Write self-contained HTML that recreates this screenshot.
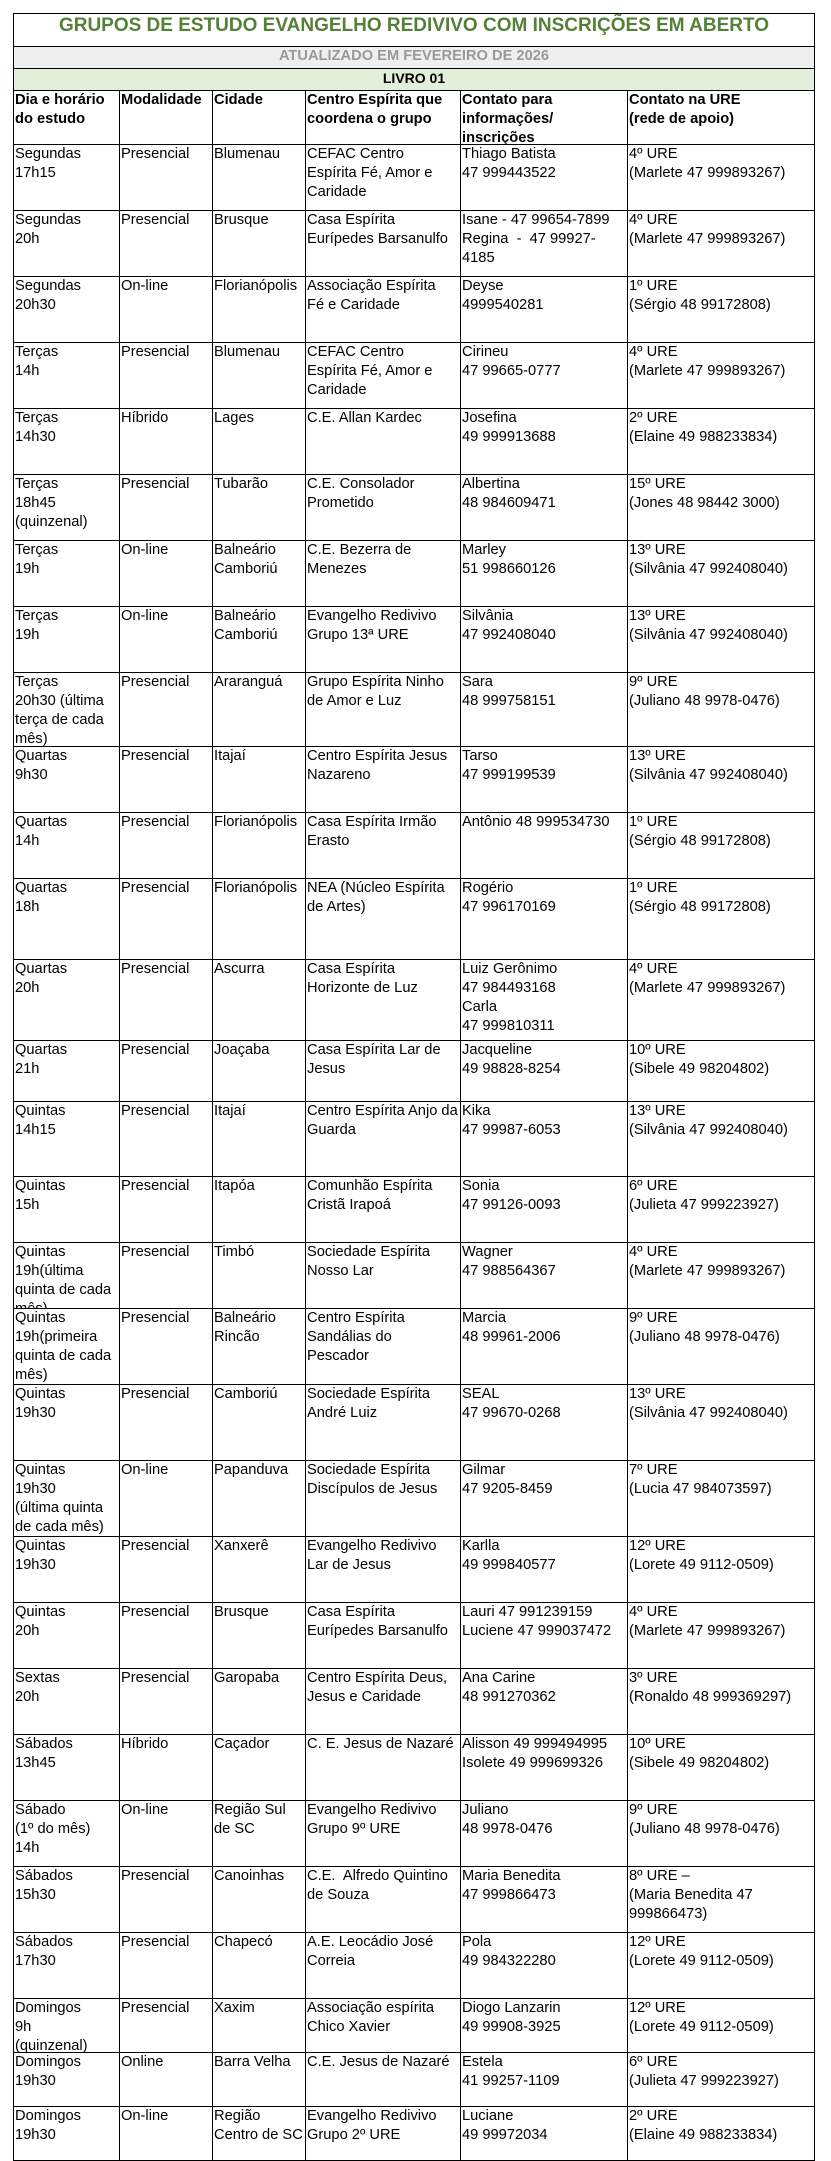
<!DOCTYPE html>
<html>
<head>
<meta charset="utf-8">
<style>
html,body{margin:0;padding:0;background:#fff;}
body{width:831px;height:2161px;position:relative;overflow:hidden;font-family:"Liberation Sans",Arial,sans-serif;color:#000;}
.h{position:absolute;left:13px;width:802px;height:1px;background:#000;}
.v{position:absolute;width:1px;background:#000;}
.r{position:absolute;left:0;width:831px;}
.r div{position:absolute;top:0;height:100%;white-space:nowrap;font-size:14.67px;line-height:19px;clip-path:inset(0 -40px 0 -2px);}
.c1{left:15px}.c2{left:121px}.c3{left:214px}.c4{left:307px}.c5{left:462px}.c6{left:629px}
.hd div{font-weight:bold;}
.band{position:absolute;left:14px;width:800px;}
</style>
</head>
<body>
<!-- band backgrounds -->
<div class="band" style="top:47px;height:21px;background:#efefef;"></div>
<div class="band" style="top:69px;height:21px;background:#e2efda;"></div>

<div style="position:absolute;left:14px;width:800px;top:15px;line-height:22px;font-size:19px;font-weight:bold;color:#538135;text-align:center;white-space:nowrap;">GRUPOS DE ESTUDO EVANGELHO REDIVIVO COM INSCRIÇÕES EM ABERTO</div>
<div style="position:absolute;left:14px;width:800px;top:47px;line-height:19px;font-size:14.67px;font-weight:bold;color:#999;text-align:center;white-space:nowrap;">ATUALIZADO EM FEVEREIRO DE 2026</div>
<div style="position:absolute;left:14px;width:800px;top:69px;line-height:19px;font-size:14px;font-weight:bold;color:#000;text-align:center;white-space:nowrap;">LIVRO 01</div>

<!-- horizontal lines -->
<div class="h" style="top:13px"></div>
<div class="h" style="top:46px"></div>
<div class="h" style="top:68px"></div>
<div class="h" style="top:90px"></div>
<div class="h" style="top:144px"></div>
<div class="h" style="top:210px"></div>
<div class="h" style="top:276px"></div>
<div class="h" style="top:342px"></div>
<div class="h" style="top:408px"></div>
<div class="h" style="top:474px"></div>
<div class="h" style="top:540px"></div>
<div class="h" style="top:606px"></div>
<div class="h" style="top:672px"></div>
<div class="h" style="top:746px"></div>
<div class="h" style="top:812px"></div>
<div class="h" style="top:878px"></div>
<div class="h" style="top:959px"></div>
<div class="h" style="top:1040px"></div>
<div class="h" style="top:1101px"></div>
<div class="h" style="top:1176px"></div>
<div class="h" style="top:1242px"></div>
<div class="h" style="top:1308px"></div>
<div class="h" style="top:1384px"></div>
<div class="h" style="top:1460px"></div>
<div class="h" style="top:1536px"></div>
<div class="h" style="top:1602px"></div>
<div class="h" style="top:1668px"></div>
<div class="h" style="top:1734px"></div>
<div class="h" style="top:1800px"></div>
<div class="h" style="top:1866px"></div>
<div class="h" style="top:1932px"></div>
<div class="h" style="top:1998px"></div>
<div class="h" style="top:2052px"></div>
<div class="h" style="top:2106px"></div>
<div class="h" style="top:2160px"></div>

<!-- header rows -->
<div class="r hd" style="top:91px;height:53px;">
<div class="c1">Dia e horário<br>do estudo</div>
<div class="c2">Modalidade</div>
<div class="c3">Cidade</div>
<div class="c4">Centro Espírita que<br>coordena o grupo</div>
<div class="c5">Contato para<br>informações/<br>inscrições</div>
<div class="c6">Contato na URE<br>(rede de apoio)</div>
</div>

<div class="r" style="top:145px;height:65px;"><div class="c1">Segundas<br>17h15</div><div class="c2">Presencial</div><div class="c3">Blumenau</div><div class="c4">CEFAC Centro<br>Espírita Fé, Amor e<br>Caridade</div><div class="c5">Thiago Batista<br>47 999443522</div><div class="c6">4º URE<br>(Marlete 47 999893267)</div></div>

<div class="r" style="top:211px;height:65px;"><div class="c1">Segundas<br>20h</div><div class="c2">Presencial</div><div class="c3">Brusque</div><div class="c4">Casa Espírita<br>Eurípedes Barsanulfo</div><div class="c5">Isane - 47 99654-7899<br>Regina&nbsp; -&nbsp; 47 99927-<br>4185</div><div class="c6">4º URE<br>(Marlete 47 999893267)</div></div>

<div class="r" style="top:277px;height:65px;"><div class="c1">Segundas<br>20h30</div><div class="c2">On-line</div><div class="c3">Florianópolis</div><div class="c4">Associação Espírita<br>Fé e Caridade</div><div class="c5">Deyse<br>4999540281</div><div class="c6">1º URE<br>(Sérgio 48 99172808)</div></div>

<div class="r" style="top:343px;height:65px;"><div class="c1">Terças<br>14h</div><div class="c2">Presencial</div><div class="c3">Blumenau</div><div class="c4">CEFAC Centro<br>Espírita Fé, Amor e<br>Caridade</div><div class="c5">Cirineu<br>47 99665-0777</div><div class="c6">4º URE<br>(Marlete 47 999893267)</div></div>

<div class="r" style="top:409px;height:65px;"><div class="c1">Terças<br>14h30</div><div class="c2">Híbrido</div><div class="c3">Lages</div><div class="c4">C.E. Allan Kardec</div><div class="c5">Josefina<br>49 999913688</div><div class="c6">2º URE<br>(Elaine 49 988233834)</div></div>

<div class="r" style="top:475px;height:65px;"><div class="c1">Terças<br>18h45<br>(quinzenal)</div><div class="c2">Presencial</div><div class="c3">Tubarão</div><div class="c4">C.E. Consolador<br>Prometido</div><div class="c5">Albertina<br>48 984609471</div><div class="c6">15º URE<br>(Jones 48 98442 3000)</div></div>

<div class="r" style="top:541px;height:65px;"><div class="c1">Terças<br>19h</div><div class="c2">On-line</div><div class="c3">Balneário<br>Camboriú</div><div class="c4">C.E. Bezerra de<br>Menezes</div><div class="c5">Marley<br>51 998660126</div><div class="c6">13º URE<br>(Silvânia 47 992408040)</div></div>

<div class="r" style="top:607px;height:65px;"><div class="c1">Terças<br>19h</div><div class="c2">On-line</div><div class="c3">Balneário<br>Camboriú</div><div class="c4">Evangelho Redivivo<br>Grupo 13ª URE</div><div class="c5">Silvânia<br>47 992408040</div><div class="c6">13º URE<br>(Silvânia 47 992408040)</div></div>

<div class="r" style="top:673px;height:73px;"><div class="c1">Terças<br>20h30 (última<br>terça de cada<br>mês)</div><div class="c2">Presencial</div><div class="c3">Araranguá</div><div class="c4">Grupo Espírita Ninho<br>de Amor e Luz</div><div class="c5">Sara<br>48 999758151</div><div class="c6">9º URE<br>(Juliano 48 9978-0476)</div></div>

<div class="r" style="top:747px;height:65px;"><div class="c1">Quartas<br>9h30</div><div class="c2">Presencial</div><div class="c3">Itajaí</div><div class="c4">Centro Espírita Jesus<br>Nazareno</div><div class="c5">Tarso<br>47 999199539</div><div class="c6">13º URE<br>(Silvânia 47 992408040)</div></div>

<div class="r" style="top:813px;height:65px;"><div class="c1">Quartas<br>14h</div><div class="c2">Presencial</div><div class="c3">Florianópolis</div><div class="c4">Casa Espírita Irmão<br>Erasto</div><div class="c5">Antônio 48 999534730</div><div class="c6">1º URE<br>(Sérgio 48 99172808)</div></div>

<div class="r" style="top:879px;height:80px;"><div class="c1">Quartas<br>18h</div><div class="c2">Presencial</div><div class="c3">Florianópolis</div><div class="c4">NEA (Núcleo Espírita<br>de Artes)</div><div class="c5">Rogério<br>47 996170169</div><div class="c6">1º URE<br>(Sérgio 48 99172808)</div></div>

<div class="r" style="top:960px;height:80px;"><div class="c1">Quartas<br>20h</div><div class="c2">Presencial</div><div class="c3">Ascurra</div><div class="c4">Casa Espírita<br>Horizonte de Luz</div><div class="c5">Luiz Gerônimo<br>47 984493168<br>Carla<br>47 999810311</div><div class="c6">4º URE<br>(Marlete 47 999893267)</div></div>

<div class="r" style="top:1041px;height:60px;"><div class="c1">Quartas<br>21h</div><div class="c2">Presencial</div><div class="c3">Joaçaba</div><div class="c4">Casa Espírita Lar de<br>Jesus</div><div class="c5">Jacqueline<br>49 98828-8254</div><div class="c6">10º URE<br>(Sibele 49 98204802)</div></div>

<div class="r" style="top:1102px;height:74px;"><div class="c1">Quintas<br>14h15</div><div class="c2">Presencial</div><div class="c3">Itajaí</div><div class="c4">Centro Espírita Anjo da<br>Guarda</div><div class="c5">Kika<br>47 99987-6053</div><div class="c6">13º URE<br>(Silvânia 47 992408040)</div></div>

<div class="r" style="top:1177px;height:65px;"><div class="c1">Quintas<br>15h</div><div class="c2">Presencial</div><div class="c3">Itapóa</div><div class="c4">Comunhão Espírita<br>Cristã Irapoá</div><div class="c5">Sonia<br>47 99126-0093</div><div class="c6">6º URE<br>(Julieta 47 999223927)</div></div>

<div class="r" style="top:1243px;height:65px;"><div class="c1">Quintas<br>19h(última<br>quinta de cada<br>mês)</div><div class="c2">Presencial</div><div class="c3">Timbó</div><div class="c4">Sociedade Espírita<br>Nosso Lar</div><div class="c5">Wagner<br>47 988564367</div><div class="c6">4º URE<br>(Marlete 47 999893267)</div></div>

<div class="r" style="top:1309px;height:75px;"><div class="c1">Quintas<br>19h(primeira<br>quinta de cada<br>mês)</div><div class="c2">Presencial</div><div class="c3">Balneário<br>Rincão</div><div class="c4">Centro Espírita<br>Sandálias do<br>Pescador</div><div class="c5">Marcia<br>48 99961-2006</div><div class="c6">9º URE<br>(Juliano 48 9978-0476)</div></div>

<div class="r" style="top:1385px;height:75px;"><div class="c1">Quintas<br>19h30</div><div class="c2">Presencial</div><div class="c3">Camboriú</div><div class="c4">Sociedade Espírita<br>André Luiz</div><div class="c5">SEAL<br>47 99670-0268</div><div class="c6">13º URE<br>(Silvânia 47 992408040)</div></div>

<div class="r" style="top:1461px;height:75px;"><div class="c1">Quintas<br>19h30<br>(última quinta<br>de cada mês)</div><div class="c2">On-line</div><div class="c3">Papanduva</div><div class="c4">Sociedade Espírita<br>Discípulos de Jesus</div><div class="c5">Gilmar<br>47 9205-8459</div><div class="c6">7º URE<br>(Lucia 47 984073597)</div></div>

<div class="r" style="top:1537px;height:65px;"><div class="c1">Quintas<br>19h30</div><div class="c2">Presencial</div><div class="c3">Xanxerê</div><div class="c4">Evangelho Redivivo<br>Lar de Jesus</div><div class="c5">Karlla<br>49 999840577</div><div class="c6">12º URE<br>(Lorete 49 9112-0509)</div></div>

<div class="r" style="top:1603px;height:65px;"><div class="c1">Quintas<br>20h</div><div class="c2">Presencial</div><div class="c3">Brusque</div><div class="c4">Casa Espírita<br>Eurípedes Barsanulfo</div><div class="c5">Lauri 47 991239159<br>Luciene 47 999037472</div><div class="c6">4º URE<br>(Marlete 47 999893267)</div></div>

<div class="r" style="top:1669px;height:65px;"><div class="c1">Sextas<br>20h</div><div class="c2">Presencial</div><div class="c3">Garopaba</div><div class="c4">Centro Espírita Deus,<br>Jesus e Caridade</div><div class="c5">Ana Carine<br>48 991270362</div><div class="c6">3º URE<br>(Ronaldo 48 999369297)</div></div>

<div class="r" style="top:1735px;height:65px;"><div class="c1">Sábados<br>13h45</div><div class="c2">Híbrido</div><div class="c3">Caçador</div><div class="c4">C. E. Jesus de Nazaré</div><div class="c5">Alisson 49 999494995<br>Isolete 49 999699326</div><div class="c6">10º URE<br>(Sibele 49 98204802)</div></div>

<div class="r" style="top:1801px;height:65px;"><div class="c1">Sábado<br>(1º do mês)<br>14h</div><div class="c2">On-line</div><div class="c3">Região Sul<br>de SC</div><div class="c4">Evangelho Redivivo<br>Grupo 9º URE</div><div class="c5">Juliano<br>48 9978-0476</div><div class="c6">9º URE<br>(Juliano 48 9978-0476)</div></div>

<div class="r" style="top:1867px;height:65px;"><div class="c1">Sábados<br>15h30</div><div class="c2">Presencial</div><div class="c3">Canoinhas</div><div class="c4">C.E.&nbsp; Alfredo Quintino<br>de Souza</div><div class="c5">Maria Benedita<br>47 999866473</div><div class="c6">8º URE –<br>(Maria Benedita 47<br>999866473)</div></div>

<div class="r" style="top:1933px;height:65px;"><div class="c1">Sábados<br>17h30</div><div class="c2">Presencial</div><div class="c3">Chapecó</div><div class="c4">A.E. Leocádio José<br>Correia</div><div class="c5">Pola<br>49 984322280</div><div class="c6">12º URE<br>(Lorete 49 9112-0509)</div></div>

<div class="r" style="top:1999px;height:53px;"><div class="c1">Domingos<br>9h<br>(quinzenal)</div><div class="c2">Presencial</div><div class="c3">Xaxim</div><div class="c4">Associação espírita<br>Chico Xavier</div><div class="c5">Diogo Lanzarin<br>49 99908-3925</div><div class="c6">12º URE<br>(Lorete 49 9112-0509)</div></div>

<div class="r" style="top:2053px;height:53px;"><div class="c1">Domingos<br>19h30</div><div class="c2">Online</div><div class="c3">Barra Velha</div><div class="c4">C.E. Jesus de Nazaré</div><div class="c5">Estela<br>41 99257-1109</div><div class="c6">6º URE<br>(Julieta 47 999223927)</div></div>

<div class="r" style="top:2107px;height:53px;"><div class="c1">Domingos<br>19h30</div><div class="c2">On-line</div><div class="c3">Região<br>Centro de SC</div><div class="c4">Evangelho Redivivo<br>Grupo 2º URE</div><div class="c5">Luciane<br>49 99972034</div><div class="c6">2º URE<br>(Elaine 49 988233834)</div></div>

<!-- vertical lines -->
<div class="v" style="left:13px;top:13px;height:2148px"></div>
<div class="v" style="left:814px;top:13px;height:2148px"></div>
<div class="v" style="left:119px;top:90px;height:2071px"></div>
<div class="v" style="left:212px;top:90px;height:2071px"></div>
<div class="v" style="left:305px;top:90px;height:2071px"></div>
<div class="v" style="left:460px;top:90px;height:2071px"></div>
<div class="v" style="left:627px;top:90px;height:2071px"></div>
</body>
</html>
